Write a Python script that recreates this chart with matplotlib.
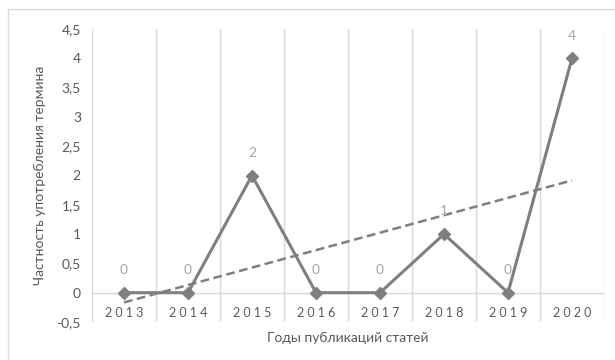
import matplotlib
matplotlib.use("Agg")
import matplotlib.pyplot as plt
from matplotlib.patches import Rectangle
import numpy as np

years = ["2013", "2014", "2015", "2016", "2017", "2018", "2019", "2020"]
counts = [0, 0, 2, 0, 0, 1, 0, 4]
y_ticks = [-0.5, 0, 0.5, 1, 1.5, 2, 2.5, 3, 3.5, 4, 4.5]

plt.rcParams["font.family"] = ["Lato", "DejaVu Sans"]

W, H = 615, 360
fig = plt.figure(figsize=(W / 100, H / 100), dpi=100)

# outer chart frame (runs off the right and bottom edges)
fig.patches.append(Rectangle((8 / W, -0.05), 1.1, (H - 9) / H + 0.05,
                             transform=fig.transFigure, fill=False,
                             edgecolor="#d9d9d9", linewidth=1.0))

left, right, top, bottom = 92, 604, 29, 322
ax = fig.add_axes([left / W, 1 - bottom / H, (right - left) / W, (bottom - top) / H])

n = len(years)
x = np.arange(n)
ax.set_xlim(-0.5, n - 0.5)
ax.set_ylim(-0.5, 4.5)

for s in ["top", "right", "left"]:
    ax.spines[s].set_visible(False)
ax.spines["bottom"].set_position(("data", 0))
ax.spines["bottom"].set_color("#d9d9d9")
ax.spines["bottom"].set_linewidth(1.0)

# vertical gridlines at category boundaries
for b in np.arange(-0.5, n, 1.0):
    ax.axvline(b, color="#d9d9d9", linewidth=1.0, zorder=0)

ax.set_xticks(x)
ax.set_xticklabels(["\u2005".join(list(y)) for y in years])
ax.tick_params(axis="x", length=0, pad=10, labelsize=9, labelcolor="#595959")

ax.set_yticks(y_ticks)
ax.set_yticklabels([f"{v:g}".replace(".", ",") for v in y_ticks])
ax.tick_params(axis="y", length=0, pad=8, labelsize=10, labelcolor="#595959")

line_color = "#7f7f7f"
ax.plot(x, counts, color=line_color, linewidth=2.2, marker="D",
        markersize=6.5, zorder=3)

# linear trendline
coef = np.polyfit(x, counts, 1)
ax.plot(x, np.polyval(coef, x), color=line_color, linewidth=1.8,
        linestyle=(0, (3.5, 1.8)), zorder=2)

for xi, v in zip(x, counts):
    ax.annotate(str(v), (xi, v), xytext=(0, 12), textcoords="offset points",
                ha="center", va="bottom", fontsize=10, color="#a6a6a6")

fig.text(40 / W, 1 - 175 / H, "Частность употребления термина", rotation=90,
         ha="center", va="center", fontsize=10, color="#595959")
fig.text(348 / W, 1 - 338 / H, "Годы публикаций статей",
         ha="center", va="center", fontsize=10, color="#595959")

fig.savefig("out.png", dpi=100)
